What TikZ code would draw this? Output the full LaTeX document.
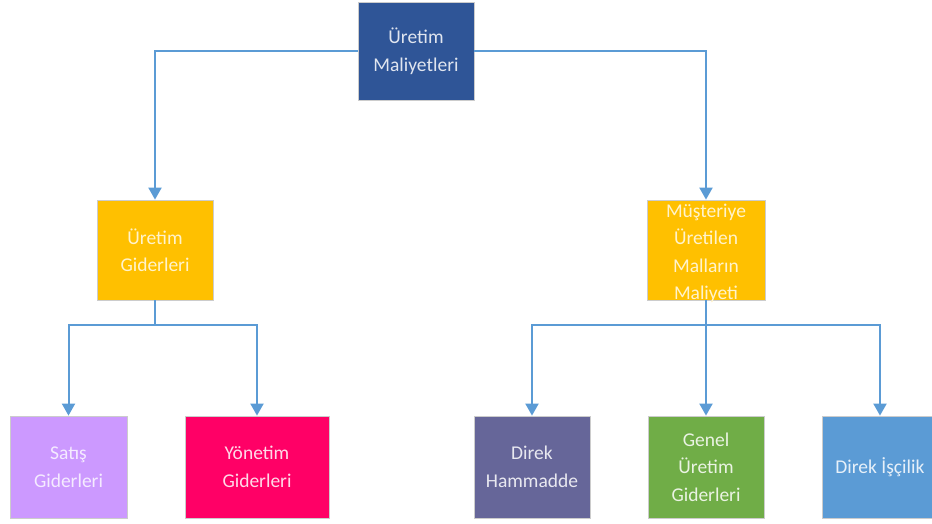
\documentclass[tikz,border=0pt]{standalone}
\usepackage{fontspec}
\setmainfont{Carlito}
\usetikzlibrary{arrows.meta}
\definecolor{cTop}{HTML}{2F5597}
\definecolor{cYel}{HTML}{FFC000}
\definecolor{cLil}{HTML}{CC99FF}
\definecolor{cPink}{HTML}{FF0066}
\definecolor{cPur}{HTML}{666699}
\definecolor{cGrn}{HTML}{70AD47}
\definecolor{cBlu}{HTML}{5B9BD5}
\definecolor{cLine}{HTML}{5B9BD5}
\tikzset{
  box/.style={draw=black!20, line width=0.8pt, minimum width=116pt, minimum height=100pt,
    align=center, inner sep=2pt, font=\fontsize{19.5}{27.5}\selectfont},
  conn/.style={draw=cLine, line width=2pt},
  arr/.style={conn, -{Triangle[width=13pt,length=12pt]}}
}
\begin{document}
\begin{tikzpicture}[x=1pt,y=-1pt]
\useasboundingbox (0,0) rectangle (932,523);
\clip (0,0) rectangle (932,523);
\node[box, fill=cTop, text=white!85!cTop, minimum height=98pt] (top) at (416,51) {Üretim\\Maliyetleri};
\node[box, fill=cYel, text=white!80!cYel] (gid) at (155,250) {Üretim\\Giderleri};
\node[box, fill=cYel, text=white!80!cYel, minimum width=118pt] (mus) at (706,250) {\smash{\raisebox{-8pt}{\begin{tabular}{@{}c@{}}Müşteriye\\Üretilen\\Malların\\Maliyeti\end{tabular}}}};
\node[box, fill=cLil, text=white!80!cLil, minimum width=117pt, minimum height=102pt] (sat) at (68.5,467) {Satış\\Giderleri};
\node[box, fill=cPink, text=white!85!cPink, minimum width=144pt, minimum height=102pt] (yon) at (257,467) {Yönetim\\Giderleri};
\node[box, fill=cPur, text=white!85!cPur, minimum height=102pt] (ham) at (532,467) {Direk\\Hammadde};
\node[box, fill=cGrn, text=white!85!cGrn, minimum height=102pt] (gen) at (706,467) {Genel\\Üretim\\Giderleri};
\node[box, fill=cBlu, text=white!85!cBlu, minimum height=102pt] (isc) at (880,467) {Direk İşçilik};
\coordinate (s1) at (155,325);
\coordinate (s2) at (706,325);
\draw[arr] (top.west) -| (gid.north);
\draw[arr] (top.east) -| (mus.north);
\draw[conn] (gid.south) -- (s1);
\draw[arr] (s1) -| (sat.north);
\draw[arr] (s1) -| (yon.north);
\draw[conn] (mus.south) -- (s2);
\draw[arr] (s2) -| (ham.north);
\draw[arr] (s2) -- (gen.north);
\draw[arr] (s2) -| (isc.north);
\end{tikzpicture}
\end{document}
